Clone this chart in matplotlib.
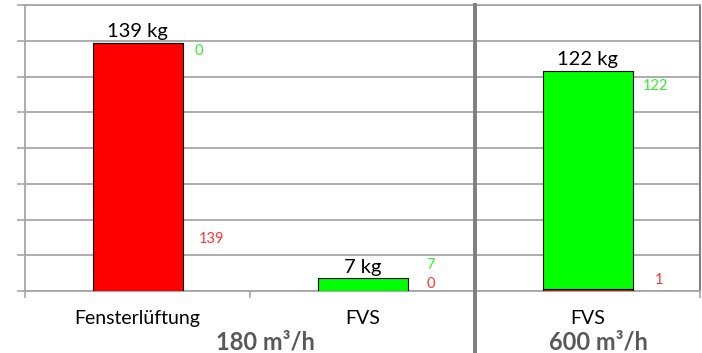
import matplotlib.pyplot as plt
from matplotlib.transforms import blended_transform_factory

# --- Datos ---
categories = ["Fensterlüftung", "FVS", "FVS"]
groups = ["180 m³/h", "600 m³/h"]
red_values = [139, 0, 1]
green_values = [0, 7, 122]
total_labels = ["139 kg", "7 kg", "122 kg"]

plt.rcParams['font.family'] = ['Lato', 'DejaVu Sans']

fig = plt.figure(figsize=(7.02, 3.53), dpi=100)
ax = fig.add_axes([25 / 702, 62 / 353, 675 / 702, 286 / 353])

x = list(range(len(categories)))
ax.bar(x, red_values, width=0.4, color='#FF0000', edgecolor='black', linewidth=0.8, zorder=3)
ax.bar(x, green_values, width=0.4, bottom=red_values, color='#00FF00',
       edgecolor='black', linewidth=0.8, zorder=3)

ax.set_xlim(-0.5, 2.5)
ax.set_ylim(0, 160)
ax.set_yticks(range(0, 161, 20))
ax.set_yticklabels([])
ax.set_xticks([-0.5, 0.5, 2.5])
ax.set_xticklabels([])
ax.tick_params(axis='y', length=6, color='#A6A6A6', width=1.2)
ax.tick_params(axis='x', length=5, color='#A6A6A6', width=1.2)
ax.grid(axis='y', color='#A6A6A6', linewidth=1.3, zorder=0)
ax.set_axisbelow(True)

for side in ['left', 'bottom', 'top']:
    ax.spines[side].set_color('#A6A6A6')
    ax.spines[side].set_linewidth(1.3)
ax.spines['right'].set_color('#7F7F7F')
ax.spines['right'].set_linewidth(1.5)

# Separador de grupos
trans = blended_transform_factory(ax.transData, ax.transAxes)
ax.plot([1.5, 1.5], [-0.3, 1], transform=trans, color='#7F7F7F', linewidth=2.8,
        clip_on=False, zorder=4)

# Etiquetas de totales
for i, lbl in enumerate(total_labels):
    top = red_values[i] + green_values[i]
    ax.text(x[i], top + 1.5, lbl, ha='center', va='bottom', fontsize=14.5, color='black')

# Etiquetas de valores
green_pos = [(0.255, 134.5), (1.285, 14.5), (2.245, 114.5)]
red_pos = [(0.27, 29), (1.285, 4), (2.3, 6)]
for i in range(len(categories)):
    gx, gy = green_pos[i]
    rx, ry = red_pos[i]
    ax.text(gx, gy, str(green_values[i]), ha='left', va='center', fontsize=10.5, color='#33EE33')
    ax.text(rx, ry, str(red_values[i]), ha='left', va='center', fontsize=10.5, color='#FF3333')

# Etiquetas de categorías
for i, cat in enumerate(categories):
    ax.text(x[i], -0.095, cat, transform=trans, ha='center', va='center', fontsize=14,
            color='black')

ax.text(0.57, -0.178, groups[0], transform=trans, ha='center', va='center', fontsize=17,
        fontweight='bold', color='#595959')
ax.text(2.05, -0.178, groups[1], transform=trans, ha='center', va='center', fontsize=17,
        fontweight='bold', color='#595959')

plt.savefig("out.png", dpi=100)
plt.close(fig)
